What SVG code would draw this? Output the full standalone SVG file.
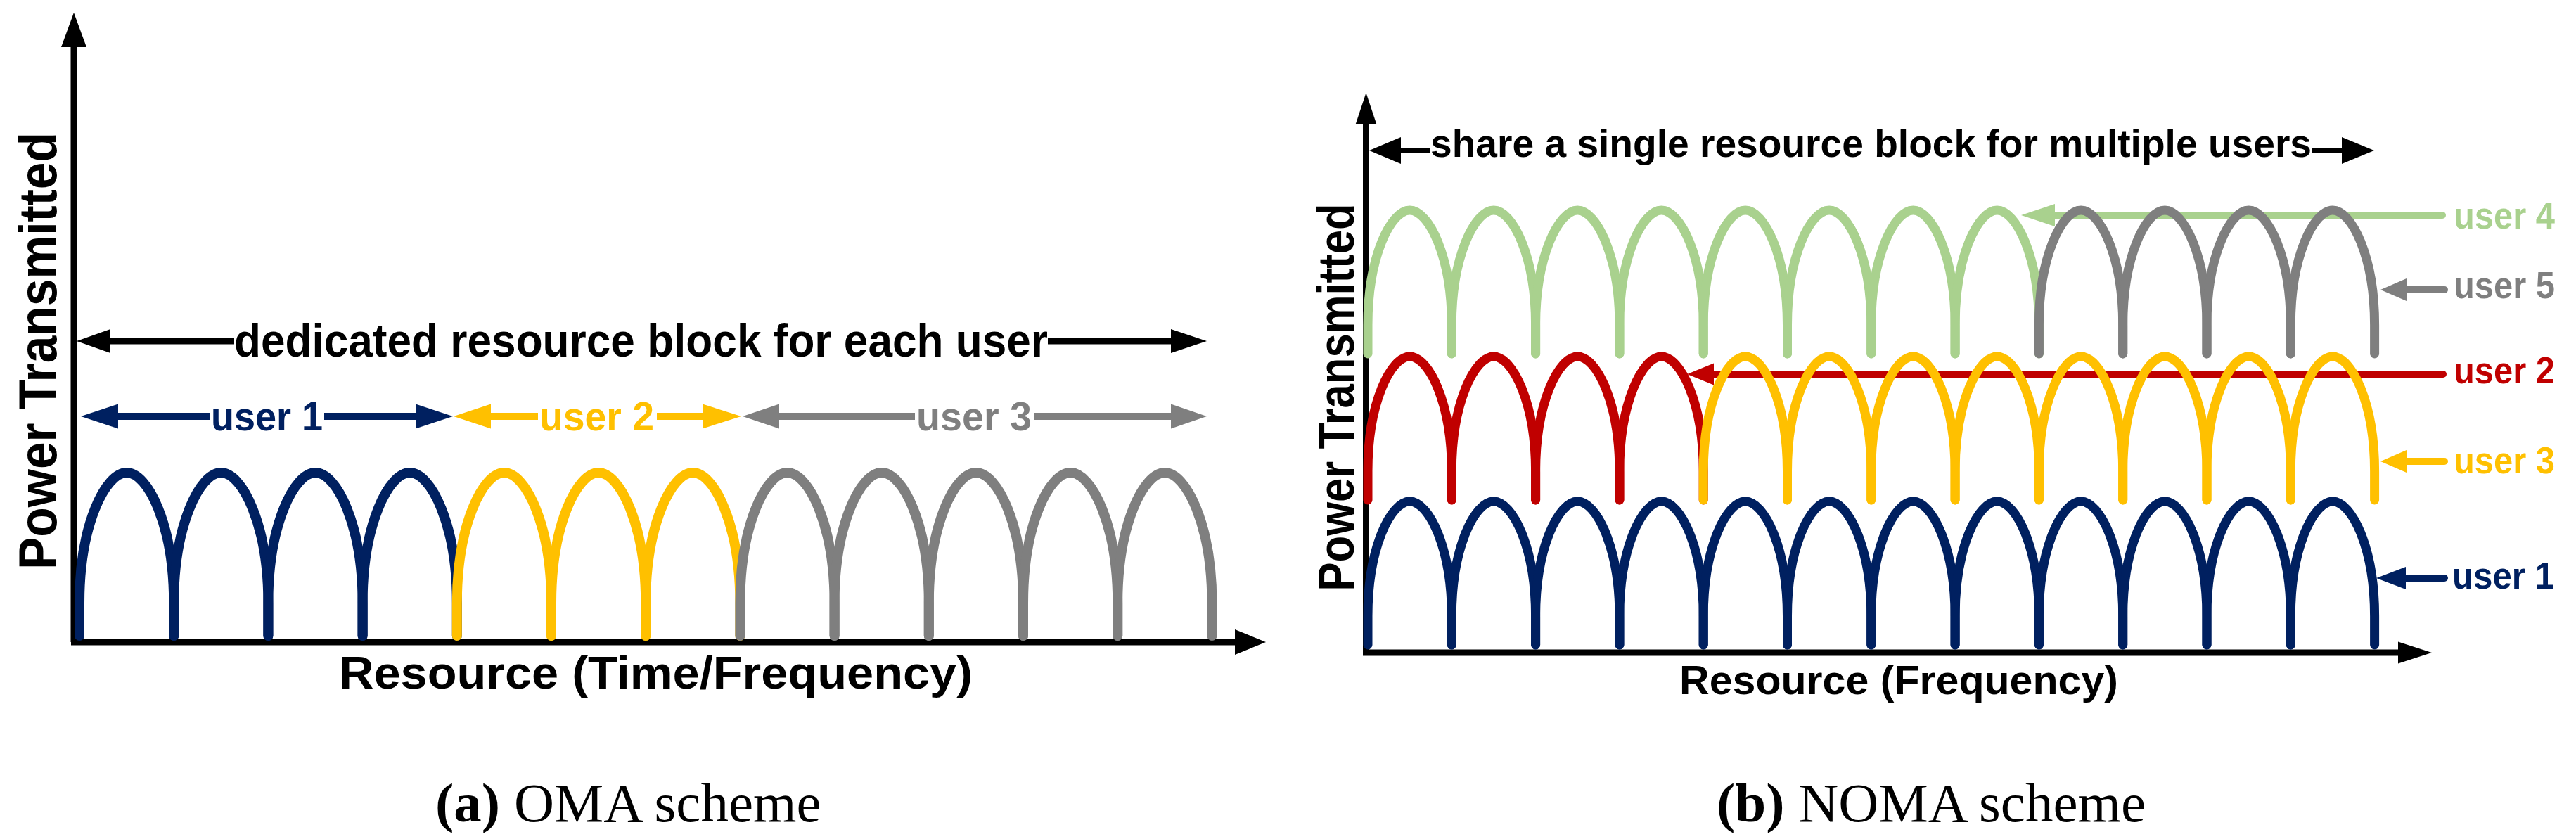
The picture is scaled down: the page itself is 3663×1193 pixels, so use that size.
<svg xmlns="http://www.w3.org/2000/svg" xmlns:xlink="http://www.w3.org/1999/xlink" width="3663" height="1193" viewBox="0 0 3663 1193">
<style>
.bg{fill:#ffffff}
.arch{fill:none;stroke-linecap:round;stroke-linejoin:round}
.archA{stroke-width:14}
.archB{stroke-width:13}
.navy{stroke:#002060}
.yel{stroke:#FFC000}
.gry{stroke:#7F7F7F}
.red{stroke:#C00000}
.grn{stroke:#A9D18E}
.fnavy{fill:#002060}
.fyel{fill:#FFC000}
.fgry{fill:#7F7F7F}
.fred{fill:#C00000}
.fgrn{fill:#A9D18E}
.ln{fill:none;stroke-linecap:butt}
.lr{fill:none;stroke-linecap:round}
.axis{stroke:#000;stroke-width:9;fill:none}
.lbl{font-family:"Liberation Sans",Arial,sans-serif;font-weight:bold}
.cap{font-family:"Liberation Serif","Times New Roman",serif;font-size:79px;fill:#000}
</style>
<defs>
<path id="archA" d="M0,0 V-46.4 C0,-157.8 36.9,-232 67.1,-232 C97.3,-232 134.2,-157.8 134.2,-46.4 V0"/>
<path id="archB" d="M0,0 V-40.8 C0,-138.7 32.8,-204 59.65,-204 C86.5,-204 119.3,-138.7 119.3,-40.8 V0"/>
</defs>
<rect class="bg" x="0" y="0" width="3663" height="1193"/>

<!-- Panel (a) -->
<g id="oma-axes">
  <line class="axis" x1="105" y1="913" x2="105" y2="60"/>
  <polygon points="105,18 87,67 123,67" fill="#000"/>
  <line class="axis" x1="101" y1="913" x2="1760" y2="913"/>
  <polygon points="1800,913 1756,895 1756,931" fill="#000"/>
  <text class="lbl" transform="translate(80,499) rotate(-90)" text-anchor="middle" font-size="76" textLength="622" lengthAdjust="spacingAndGlyphs">Power Transmitted</text>
  <text class="lbl" x="482" y="979" font-size="64" textLength="901" lengthAdjust="spacingAndGlyphs">Resource (Time/Frequency)</text>
</g>

<g id="oma-connectors">
  <g id="oma-dedicated">
    <polygon points="109,485 157,468 157,502" fill="#000"/>
    <line class="ln" x1="155" y1="485" x2="333" y2="485" stroke="#000" stroke-width="9"/>
    <text class="lbl" x="333" y="507" font-size="66" textLength="1157" lengthAdjust="spacingAndGlyphs" fill="#000">dedicated resource block for each user</text>
    <line class="ln" x1="1490" y1="485" x2="1667" y2="485" stroke="#000" stroke-width="9"/>
    <polygon points="1716,485 1665,468 1665,502" fill="#000"/>
  </g>
  <g id="oma-user1-span">
    <polygon class="fnavy" points="115,592 168,574.5 168,609.5"/>
    <line class="ln navy" x1="166" y1="592" x2="298" y2="592" stroke-width="10"/>
    <text class="lbl fnavy" x="300" y="612" font-size="58" textLength="159" lengthAdjust="spacingAndGlyphs">user 1</text>
    <line class="ln navy" x1="461" y1="592" x2="593" y2="592" stroke-width="10"/>
    <polygon class="fnavy" points="644,592 591,574.5 591,609.5"/>
  </g>
  <g id="oma-user2-span">
    <polygon class="fyel" points="645,592 698,574.5 698,609.5"/>
    <line class="ln yel" x1="696" y1="592" x2="765" y2="592" stroke-width="10"/>
    <text class="lbl fyel" x="767" y="612" font-size="58" textLength="163" lengthAdjust="spacingAndGlyphs">user 2</text>
    <line class="ln yel" x1="934" y1="592" x2="1001" y2="592" stroke-width="10"/>
    <polygon class="fyel" points="1054,592 999,574.5 999,609.5"/>
  </g>
  <g id="oma-user3-span">
    <polygon class="fgry" points="1056,592 1108,574.5 1108,609.5"/>
    <line class="ln gry" x1="1106" y1="592" x2="1301" y2="592" stroke-width="10"/>
    <text class="lbl fgry" x="1303" y="612" font-size="58" textLength="164" lengthAdjust="spacingAndGlyphs">user 3</text>
    <line class="ln gry" x1="1471" y1="592" x2="1667" y2="592" stroke-width="10"/>
    <polygon class="fgry" points="1716,592 1665,574.5 1665,609.5"/>
  </g>
</g>

<g id="oma-user1-blocks" class="arch archA navy">
  <use xlink:href="#archA" href="#archA" x="113" y="904"/>
  <use xlink:href="#archA" href="#archA" x="247.2" y="904"/>
  <use xlink:href="#archA" href="#archA" x="381.4" y="904"/>
  <use xlink:href="#archA" href="#archA" x="515.6" y="904"/>
</g>
<g id="oma-user2-blocks" class="arch archA yel">
  <use xlink:href="#archA" href="#archA" x="649.8" y="904"/>
  <use xlink:href="#archA" href="#archA" x="784" y="904"/>
  <use xlink:href="#archA" href="#archA" x="918.2" y="904"/>
</g>
<g id="oma-user3-blocks" class="arch archA gry">
  <use xlink:href="#archA" href="#archA" x="1052.4" y="904"/>
  <use xlink:href="#archA" href="#archA" x="1186.6" y="904"/>
  <use xlink:href="#archA" href="#archA" x="1320.8" y="904"/>
  <use xlink:href="#archA" href="#archA" x="1455" y="904"/>
  <use xlink:href="#archA" href="#archA" x="1589.2" y="904"/>
</g>

<!-- Panel (b) -->
<g id="noma-axes">
  <line class="axis" x1="1942.5" y1="928" x2="1942.5" y2="170"/>
  <polygon points="1942.5,132 1927.5,177 1957.5,177" fill="#000"/>
  <line class="axis" x1="1938" y1="928" x2="3415" y2="928"/>
  <polygon points="3458,928 3410,912.5 3410,943.5" fill="#000"/>
  <text class="lbl" transform="translate(1925,565) rotate(-90)" text-anchor="middle" font-size="72" textLength="551" lengthAdjust="spacingAndGlyphs">Power Transmitted</text>
  <text class="lbl" x="2388" y="987" font-size="58" textLength="624" lengthAdjust="spacingAndGlyphs">Resource (Frequency)</text>
</g>

<g id="noma-connectors">
  <g id="noma-shared">
    <polygon points="1947,214 1992,195 1992,233" fill="#000"/>
    <line class="ln" x1="1990" y1="214" x2="2034" y2="214" stroke="#000" stroke-width="8"/>
    <text class="lbl" x="2034" y="223" font-size="55" textLength="1253" lengthAdjust="spacingAndGlyphs" fill="#000">share a single resource block for multiple users</text>
    <line class="ln" x1="3287" y1="214" x2="3332" y2="214" stroke="#000" stroke-width="8"/>
    <polygon points="3376,214 3330,195 3330,233" fill="#000"/>
  </g>
  <g id="noma-user4-pointer">
    <line class="lr grn" x1="2920" y1="306" x2="3473" y2="306" stroke-width="10"/>
    <polygon class="fgrn" points="2874,306 2922,290 2922,322"/>
  </g>
  <g id="noma-user5-pointer">
    <line class="lr gry" x1="3420" y1="412" x2="3476" y2="412" stroke-width="10"/>
    <polygon class="fgry" points="3385,412 3422,396 3422,428"/>
  </g>
  <g id="noma-user2-pointer">
    <line class="lr red" x1="2435" y1="532" x2="3474" y2="532" stroke-width="10"/>
    <polygon class="fred" points="2399,532 2437,516.5 2437,547.5"/>
  </g>
  <g id="noma-user3-pointer">
    <line class="lr yel" x1="3420" y1="656" x2="3476" y2="656" stroke-width="10"/>
    <polygon class="fyel" points="3385,656 3422,640 3422,672"/>
  </g>
  <g id="noma-user1-pointer">
    <line class="lr navy" x1="3419" y1="822" x2="3476" y2="822" stroke-width="10"/>
    <polygon class="fnavy" points="3379,822 3421,806 3421,838"/>
  </g>
</g>

<g id="noma-user1-blocks" class="arch archB navy">
  <use xlink:href="#archB" href="#archB" x="1945" y="917"/>
  <use xlink:href="#archB" href="#archB" x="2064.3" y="917"/>
  <use xlink:href="#archB" href="#archB" x="2183.6" y="917"/>
  <use xlink:href="#archB" href="#archB" x="2302.9" y="917"/>
  <use xlink:href="#archB" href="#archB" x="2422.2" y="917"/>
  <use xlink:href="#archB" href="#archB" x="2541.5" y="917"/>
  <use xlink:href="#archB" href="#archB" x="2660.8" y="917"/>
  <use xlink:href="#archB" href="#archB" x="2780.1" y="917"/>
  <use xlink:href="#archB" href="#archB" x="2899.4" y="917"/>
  <use xlink:href="#archB" href="#archB" x="3018.7" y="917"/>
  <use xlink:href="#archB" href="#archB" x="3138" y="917"/>
  <use xlink:href="#archB" href="#archB" x="3257.3" y="917"/>
</g>
<g id="noma-user2-blocks" class="arch archB red">
  <use xlink:href="#archB" href="#archB" x="1945" y="711"/>
  <use xlink:href="#archB" href="#archB" x="2064.3" y="711"/>
  <use xlink:href="#archB" href="#archB" x="2183.6" y="711"/>
  <use xlink:href="#archB" href="#archB" x="2302.9" y="711"/>
</g>
<g id="noma-user3-blocks" class="arch archB yel">
  <use xlink:href="#archB" href="#archB" x="2422.2" y="711"/>
  <use xlink:href="#archB" href="#archB" x="2541.5" y="711"/>
  <use xlink:href="#archB" href="#archB" x="2660.8" y="711"/>
  <use xlink:href="#archB" href="#archB" x="2780.1" y="711"/>
  <use xlink:href="#archB" href="#archB" x="2899.4" y="711"/>
  <use xlink:href="#archB" href="#archB" x="3018.7" y="711"/>
  <use xlink:href="#archB" href="#archB" x="3138" y="711"/>
  <use xlink:href="#archB" href="#archB" x="3257.3" y="711"/>
</g>
<g id="noma-user4-blocks" class="arch archB grn">
  <use xlink:href="#archB" href="#archB" x="1945" y="503"/>
  <use xlink:href="#archB" href="#archB" x="2064.3" y="503"/>
  <use xlink:href="#archB" href="#archB" x="2183.6" y="503"/>
  <use xlink:href="#archB" href="#archB" x="2302.9" y="503"/>
  <use xlink:href="#archB" href="#archB" x="2422.2" y="503"/>
  <use xlink:href="#archB" href="#archB" x="2541.5" y="503"/>
  <use xlink:href="#archB" href="#archB" x="2660.8" y="503"/>
  <use xlink:href="#archB" href="#archB" x="2780.1" y="503"/>
</g>
<g id="noma-user5-blocks" class="arch archB gry">
  <use xlink:href="#archB" href="#archB" x="2899.4" y="503"/>
  <use xlink:href="#archB" href="#archB" x="3018.7" y="503"/>
  <use xlink:href="#archB" href="#archB" x="3138" y="503"/>
  <use xlink:href="#archB" href="#archB" x="3257.3" y="503"/>
</g>

<g id="noma-labels">
  <text class="lbl fgrn" x="3489" y="325" font-size="53" textLength="144" lengthAdjust="spacingAndGlyphs">user 4</text>
  <text class="lbl fgry" x="3489" y="424" font-size="53" textLength="144" lengthAdjust="spacingAndGlyphs">user 5</text>
  <text class="lbl fred" x="3489" y="545" font-size="53" textLength="144" lengthAdjust="spacingAndGlyphs">user 2</text>
  <text class="lbl fyel" x="3489" y="673" font-size="53" textLength="144" lengthAdjust="spacingAndGlyphs">user 3</text>
  <text class="lbl fnavy" x="3487" y="837" font-size="53" textLength="145" lengthAdjust="spacingAndGlyphs">user 1</text>
</g>

<g id="captions">
  <text class="cap" x="619" y="1168"><tspan font-weight="bold">(a)</tspan> OMA scheme</text>
  <text class="cap" x="2441" y="1168"><tspan font-weight="bold">(b)</tspan> NOMA scheme</text>
</g>
</svg>
